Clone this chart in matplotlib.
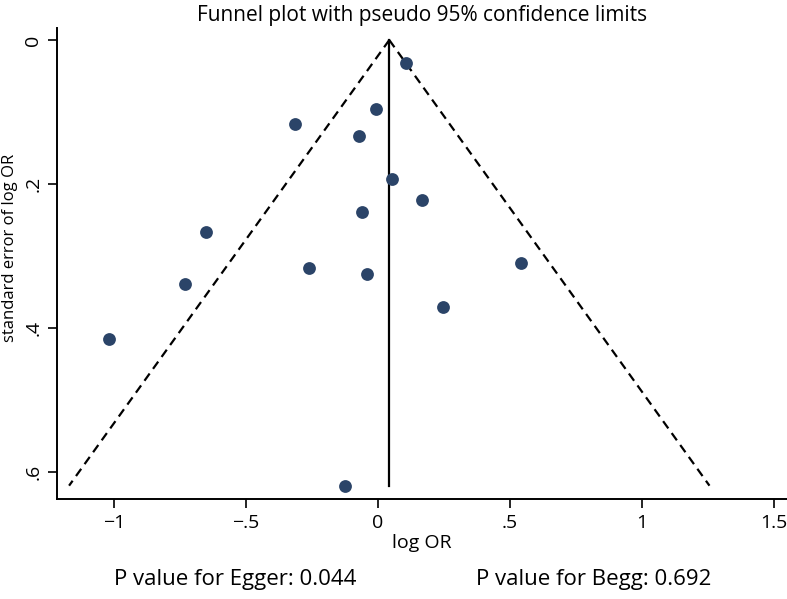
import numpy as np
import matplotlib.pyplot as plt

plt.rcParams['font.family'] = ['Open Sans', 'DejaVu Sans']

# study estimates
log_or = [0.106, -0.009, -0.314, -0.072, 0.052, 0.166, -0.059, -0.652,
          0.542, -0.260, -0.042, -0.732, 0.247, -1.019, -0.126]
se_log_or = [0.032, 0.096, 0.116, 0.133, 0.193, 0.222, 0.239, 0.267,
             0.310, 0.317, 0.325, 0.339, 0.371, 0.415, 0.619]
pooled = 0.043
xticks = [-1, -0.5, 0, 0.5, 1, 1.5]
xtick_labels = ["\u22121", "\u2212.5", "0", ".5", "1", "1.5"]
yticks = [0, 0.2, 0.4, 0.6]
ytick_labels = ["0", ".2", ".4", ".6"]

fig = plt.figure(figsize=(7.87, 5.99), dpi=100)
ax = fig.add_axes([57/787, 100/599, 730/787, 471/599])

se_max = max(se_log_or)
se_line = np.array([0, se_max])
ax.plot(pooled - 1.96*se_line, se_line, color="black", ls=(0, (4, 2.6)), lw=1.6)
ax.plot(pooled + 1.96*se_line, se_line, color="black", ls=(0, (4, 2.6)), lw=1.6)
ax.plot([pooled, pooled], se_line, color="black", lw=1.6)
ax.scatter(log_or, se_log_or, s=85, color="#2b4468", zorder=3, linewidths=0)

ax.set_xlim(-1.216, 1.55)
ax.set_ylim(0.6375, -0.0167)
ax.set_xticks(xticks)
ax.set_xticklabels(xtick_labels)
ax.set_yticks(yticks)
ax.set_yticklabels(ytick_labels, rotation=90, va="center")
ax.tick_params(direction="out", length=6.5, width=1.2, labelsize=14, pad=4)
for s in ["top", "right"]:
    ax.spines[s].set_visible(False)
for s in ["left", "bottom"]:
    ax.spines[s].set_linewidth(1.4)

ax.set_title("Funnel plot with pseudo 95% confidence limits", fontsize=15, pad=5)
ax.set_xlabel("log OR", fontsize=14, labelpad=2)
ax.set_ylabel("standard error of log OR", fontsize=12)
ax.yaxis.set_label_coords(-0.054, 0.533)

fig.text(235/787, 1 - 580/599, "P value for Egger: 0.044", fontsize=16, ha="center", va="center")
fig.text(594/787, 1 - 580/599, "P value for Begg: 0.692", fontsize=16, ha="center", va="center")

fig.savefig("out.png", dpi=100)
